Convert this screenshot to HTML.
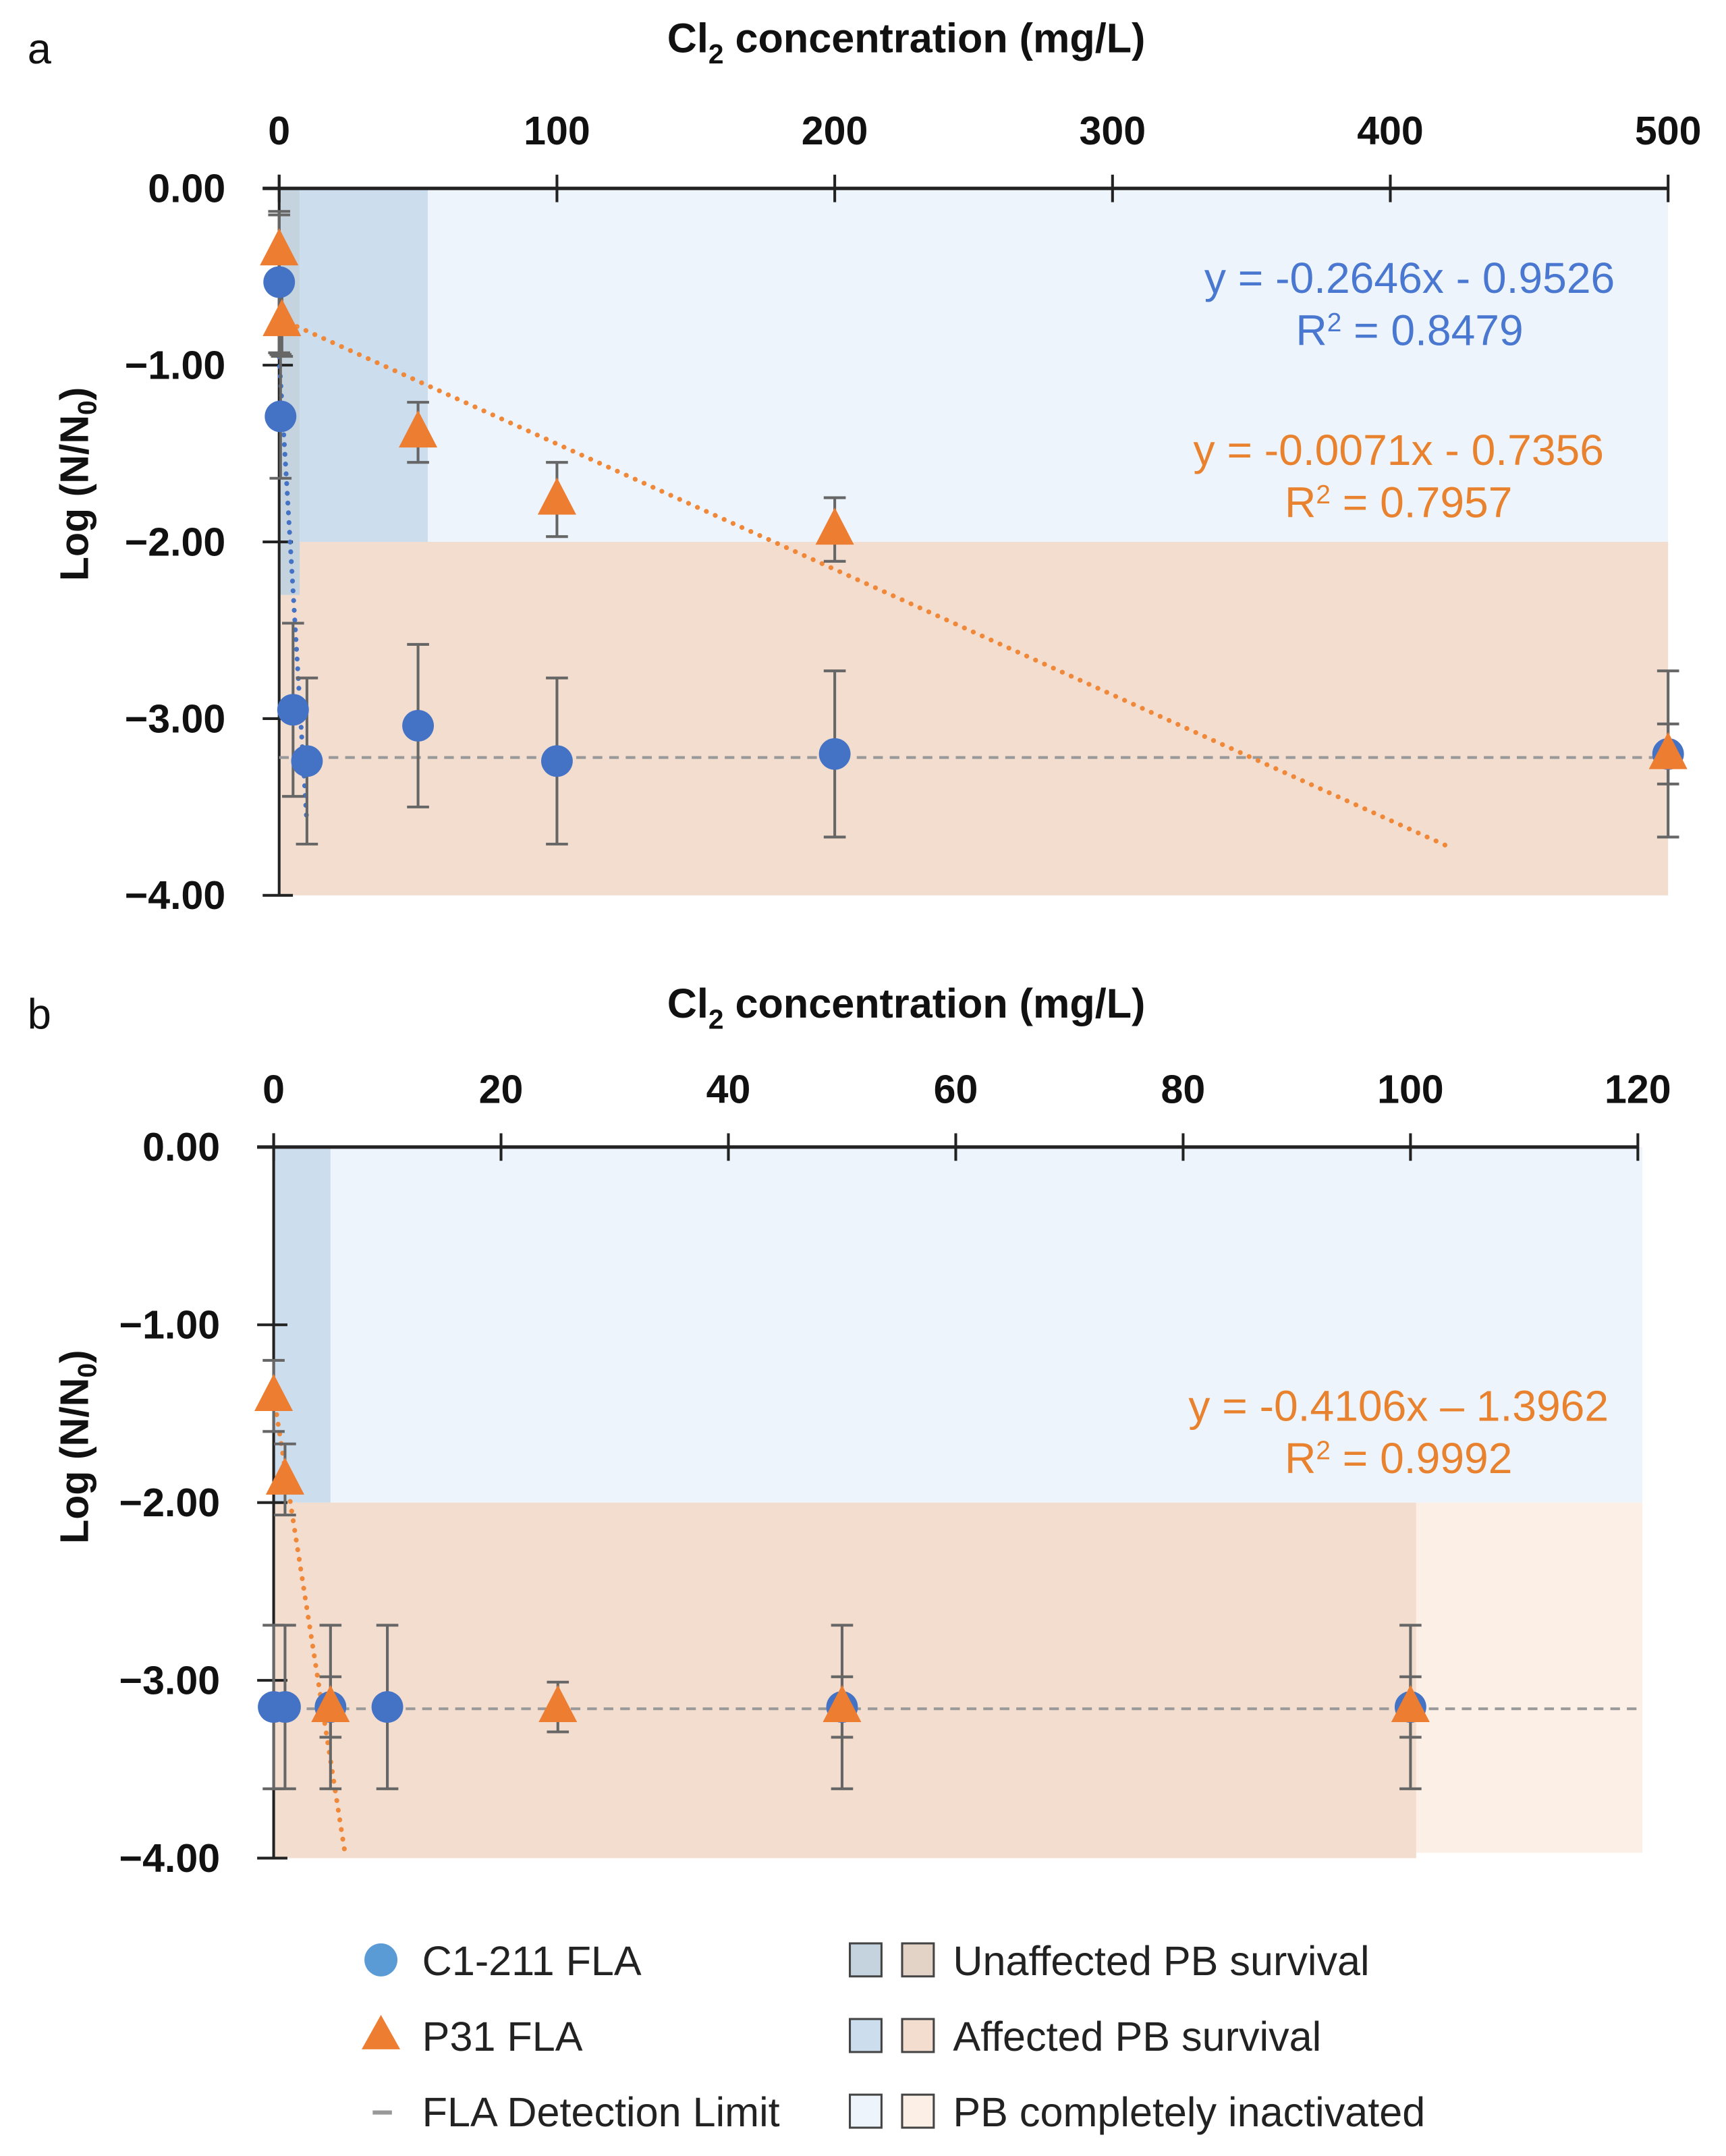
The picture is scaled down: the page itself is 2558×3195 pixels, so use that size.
<!DOCTYPE html>
<html><head><meta charset="utf-8"><style>
html,body{margin:0;padding:0;background:#fff}
svg{display:block}
text{font-family:"Liberation Sans",Arial,sans-serif}
</style></head><body>
<svg id="fig" width="2558" height="3195" viewBox="0 0 1255.1 1567.6" preserveAspectRatio="none" xmlns="http://www.w3.org/2000/svg">
<g id="pa"></g>
<g id="pb"></g>
<g id="legend">
  <circle cx="277" cy="1425" r="12" fill="#5B9BD5"/>
  <text x="307" y="1436" font-size="30" fill="#222">C1-211 FLA</text>
  <polygon points="277,1465 263,1490 291,1490" fill="#ED7D31"/>
  <text x="307" y="1491" font-size="30" fill="#222">P31 FLA</text>
  <line x1="271" y1="1536" x2="285" y2="1536" stroke="#999" stroke-width="3"/>
  <text x="307" y="1546" font-size="30" fill="#222">FLA Detection Limit</text>
  <rect x="618" y="1413" width="23" height="24" fill="#C5D3DE" stroke="#444" stroke-width="1.5"/>
  <rect x="656" y="1413" width="23" height="24" fill="#E3D2C6" stroke="#444" stroke-width="1.5"/>
  <text x="693" y="1436" font-size="30" fill="#222">Unaffected PB survival</text>
  <rect x="618" y="1468" width="23" height="24" fill="#CCDDED" stroke="#444" stroke-width="1.5"/>
  <rect x="656" y="1468" width="23" height="24" fill="#F3DDCF" stroke="#444" stroke-width="1.5"/>
  <text x="693" y="1491" font-size="30" fill="#222">Affected PB survival</text>
  <rect x="618" y="1523" width="23" height="24" fill="#EDF4FB" stroke="#444" stroke-width="1.5"/>
  <rect x="656" y="1523" width="23" height="24" fill="#FCF0E6" stroke="#444" stroke-width="1.5"/>
  <text x="693" y="1546" font-size="30" fill="#222">PB completely inactivated</text>
</g>
</svg>
<script>
// Panel a data
const aXTicks = [0,100,200,300,400,500];
const aYTicks = [0,-1,-2,-3,-4];
const aBlueX = [0,0.5,5,10,50,100,200,500];
const aBlueY = [-0.53,-1.29,-2.95,-3.24,-3.04,-3.24,-3.20,-3.20];
const aBlueErr = [0.4,0.35,0.49,0.47,0.46,0.47,0.47,0.47];
const aOrX = [0,1,50,100,200,500];
const aOrY = [-0.35,-0.75,-1.38,-1.76,-1.93,-3.20];
const aOrErr = [0.2,0.2,0.17,0.21,0.18,0.17];
const aOrFit = [-0.0071,-0.7356,0,420];
const aBlueFit = [-0.2646,-0.9526,0,10];
const aDetect = -3.22;
// Panel b data
const bXTicks = [0,20,40,60,80,100,120];
const bYTicks = [0,-1,-2,-3,-4];
const bBlueX = [0,1,5,10,50,100];
const bBlueY = [-3.15,-3.15,-3.15,-3.15,-3.15,-3.15];
const bBlueErr = [0.46,0.46,0.46,0.46,0.46,0.46];
const bOrX = [0,1,5,25,50,100];
const bOrY = [-1.40,-1.87,-3.15,-3.15,-3.15,-3.15];
const bOrErr = [0.2,0.2,0.17,0.14,0.17,0.17];
const bOrFit = [-0.4106,-1.3962,0,6.34];
const bDetect = -3.16;

const NS='http://www.w3.org/2000/svg';
function mk(parent,tag,attrs,name){const e=document.createElementNS(NS,tag);for(const k in attrs)e.setAttribute(k,attrs[k]);


parent.appendChild(e);return e;}

function panel(g,cfg){
  const X=v=>cfg.x0+(v-0)/cfg.xmax*(cfg.x1-cfg.x0);
  const Y=v=>cfg.y0+(-v)/4*(cfg.y1-cfg.y0);
  cfg.regions.forEach(r=>{mk(g,'rect',{x:X(r[0]),y:Y(r[2]),width:X(r[1])-X(r[0]),height:Y(r[3])-Y(r[2]),fill:r[4]},'region-'+r[5]);});
  mk(g,'line',{x1:X(0)-12,y1:Y(0),x2:X(cfg.xmax),y2:Y(0),stroke:'#222','stroke-width':2.5},'x-axis');
  mk(g,'line',{x1:X(0),y1:Y(0)-10,x2:X(0),y2:Y(-4),stroke:'#222','stroke-width':2},'y-axis');
  cfg.xt.forEach(t=>{mk(g,'line',{x1:X(t),y1:Y(0)-10,x2:X(t),y2:Y(0)+10,stroke:'#222','stroke-width':2},'x-tick');
    const tx=mk(g,'text',{x:X(t),y:cfg.y0-32,'font-size':29,'font-weight':'bold','text-anchor':'middle',fill:'#111'},'x-tick-label');tx.textContent=t;});
  cfg.yt.forEach(t=>{mk(g,'line',{x1:X(0)-12,y1:Y(t),x2:X(0)+10,y2:Y(t),stroke:'#222','stroke-width':2},'y-tick');
    const tx=mk(g,'text',{x:X(0)-39,y:Y(t)+10,'font-size':29,'font-weight':'bold','text-anchor':'end',fill:'#111'},'y-tick-label');tx.textContent=(t===0?'0.00':'\u2212'+Math.abs(t).toFixed(2));});
  mk(g,'line',{x1:X(0),y1:Y(cfg.det),x2:cfg.detEnd,y2:Y(cfg.det),stroke:'#999','stroke-width':2,'stroke-dasharray':'7,5'},'detection-limit-line');
  cfg.fits.forEach(f=>{mk(g,'line',{x1:X(f[2]),y1:Y(f[0]*f[2]+f[1]),x2:X(f[3]),y2:Y(f[0]*f[3]+f[1]),stroke:f[4],'stroke-width':3.5,'stroke-dasharray':'0.1,7','stroke-linecap':'round'},'trendline-'+f[5]);});
  const eb=(x,y,e,nm)=>{const px=X(x);mk(g,'line',{x1:px,y1:Y(y+e),x2:px,y2:Y(y-e),stroke:'#666','stroke-width':2},nm);
    mk(g,'line',{x1:px-8,y1:Y(y+e),x2:px+8,y2:Y(y+e),stroke:'#666','stroke-width':2},nm+'-cap');
    mk(g,'line',{x1:px-8,y1:Y(y-e),x2:px+8,y2:Y(y-e),stroke:'#666','stroke-width':2},nm+'-cap');};
  cfg.bx.forEach((x,i)=>eb(x,cfg.by[i],cfg.be[i],'c1-211-error-bar'));
  cfg.ox.forEach((x,i)=>eb(x,cfg.oy[i],cfg.oe[i],'p31-error-bar'));
  cfg.bx.forEach((x,i)=>mk(g,'circle',{cx:X(x),cy:Y(cfg.by[i]),r:11.5,fill:'#4472C4'},'c1-211-point'));
  cfg.ox.forEach((x,i)=>{const px=X(x),py=Y(cfg.oy[i]);mk(g,'polygon',{points:`${px},${py-16} ${px-14},${py+11} ${px+14},${py+11}`,fill:'#ED7D31'},'p31-point');});
  const t1=mk(g,'text',{x:659,y:cfg.titleY,'font-size':30,'font-weight':'bold','text-anchor':'middle',fill:'#111'},'x-axis-title');
  t1.innerHTML='Cl<tspan font-size="20" dy="8">2</tspan><tspan dy="-8"> concentration (mg/L)</tspan>';
  const yl=mk(g,'text',{x:0,y:0,'font-size':29,'font-weight':'bold','text-anchor':'middle',fill:'#111',transform:`translate(64,${cfg.ylabY}) rotate(-90)`},'y-axis-title');
  yl.innerHTML='Log (N/N<tspan font-size="19" dy="6">0</tspan><tspan dy="-6">)</tspan>';
  const pl=mk(g,'text',{x:20,y:cfg.titleY+8,'font-size':31,fill:'#111'},'panel-label');pl.textContent=cfg.label;
  cfg.eqs.forEach(q=>{const t=mk(g,'text',{x:q[0],y:q[1],'font-size':31.5,'text-anchor':'middle',fill:q[3]},'equation-label');t.innerHTML=q[2];});
}

panel(document.getElementById('pa'),{x0:203,x1:1213,xmax:500,y0:137,y1:651,xt:aXTicks,yt:aYTicks,
  regions:[[0,500,-2,-4,'#F3DDCF','unaffected-inactivated-peach'],[53.5,500,0,-2,'#EDF4FB','inactivated-blue'],[7.4,53.5,0,-2,'#CCDDED','affected-blue'],[0,7.4,0,-2.3,'#C5D3DE','unaffected-blue']],
  det:aDetect,detEnd:1213,
  fits:[[...aOrFit,'#F0883A','p31'],[...aBlueFit,'#4472C4','c1-211']],
  bx:aBlueX,by:aBlueY,be:aBlueErr,ox:aOrX,oy:aOrY,oe:aOrErr,titleY:38,ylabY:352,label:'a',
  eqs:[[1025,213,'y = -0.2646x - 0.9526','#4A78D0'],[1025,251,'R<tspan font-size="19" dy="-10">2</tspan><tspan dy="10"> = 0.8479</tspan>','#4A78D0'],
       [1017,338,'y = -0.0071x - 0.7356','#E8822E'],[1017,376,'R<tspan font-size="19" dy="-10">2</tspan><tspan dy="10"> = 0.7957</tspan>','#E8822E']]});
panel(document.getElementById('pb'),{x0:199,x1:1191,xmax:120,y0:834,y1:1351,xt:bXTicks,yt:bYTicks,
  regions:[[100.5,120.4,-2,-3.97,'#FCF0E6','inactivated-peach'],[0,100.5,-2,-4,'#F3DDCF','affected-peach'],[5,120.4,0,-2,'#EDF4FB','inactivated-blue'],[0,5,0,-2,'#CCDDED','affected-blue']],
  det:bDetect,detEnd:1195,
  fits:[[...bOrFit,'#F0883A','p31']],
  bx:bBlueX,by:bBlueY,be:bBlueErr,ox:bOrX,oy:bOrY,oe:bOrErr,titleY:740,ylabY:1052,label:'b',
  eqs:[[1017,1033,'y = -0.4106x \u2013 1.3962','#E8822E'],[1017,1071,'R<tspan font-size="19" dy="-10">2</tspan><tspan dy="10"> = 0.9992</tspan>','#E8822E']]});
</script>
</body></html>
